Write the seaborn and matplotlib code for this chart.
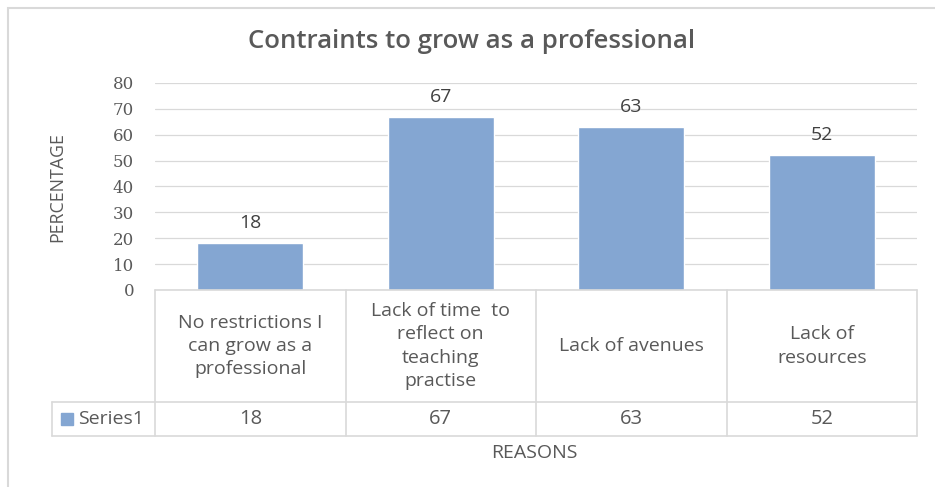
import matplotlib
matplotlib.use("Agg")
import matplotlib.pyplot as plt
import matplotlib.transforms as mtransforms
from matplotlib.patches import Rectangle
import seaborn as sns
import pandas as pd

# ---- data ----
categories = ["No restrictions I\ncan grow as a\nprofessional",
              "Lack of time  to\nreflect on\nteaching\npractise",
              "Lack of avenues",
              "Lack of\nresources"]
values = [18, 67, 63, 52]
series_name = "Series1"
yticks = [0, 10, 20, 30, 40, 50, 60, 70, 80]
title = "Contraints to grow as a professional"
xlabel = "REASONS"
ylabel = "PERCENTAGE"

sns.set_theme(style="white")
plt.rcParams['font.family'] = ['Open Sans', 'DejaVu Sans']

TXT = "#595959"
BAR = "#84A6D2"
GRID = "#D9D9D9"

W, H = 935, 487
fig = plt.figure(figsize=(W / 100, H / 100), dpi=100)

# outer chart border
fig.add_artist(Rectangle((8 / W, -0.1), 1.2, (487 - 8) / H + 0.1, transform=fig.transFigure,
                         fill=False, edgecolor="#D9D9D9", lw=1.5))

L, R, T, B = 155, 917, 83, 290
ax = fig.add_axes([L / W, (H - B) / H, (R - L) / W, (B - T) / H])

df = pd.DataFrame({"cat": categories, "val": values})
sns.barplot(data=df, x="cat", y="val", color=BAR, saturation=1, width=0.556, ax=ax)
ax.set_ylim(0, 80)
ax.set_xlim(-0.5, 3.5)
ax.set_yticks(yticks)
ax.set_yticklabels([str(v) for v in yticks], color=TXT, fontsize=12, family=['DejaVu Serif'])
ax.tick_params(axis='y', length=0, pad=15)
ax.set_xticks([])
ax.set_xlabel("")
ax.set_ylabel("")
for s in ax.spines.values():
    s.set_visible(False)
ax.yaxis.grid(True, color=GRID, lw=0.9)
ax.set_axisbelow(True)

for c in ax.containers:
    ax.bar_label(c, labels=[str(v) for v in values], padding=8, color="#404040", fontsize=14)

# title and axis titles
fig.text(472 / W, 1 - 42 / H, title, ha="center", va="center", fontsize=18.5,
         fontweight="semibold", color=TXT)
fig.text(57 / W, 1 - 187 / H, ylabel, ha="center", va="center", rotation=90, fontsize=12.8, color=TXT)
fig.text(534 / W, 1 - 453 / H, xlabel, ha="center", va="center", fontsize=14, color=TXT)

# data table below axis
trans = mtransforms.blended_transform_factory(ax.transData, ax.transAxes)
ph = B - T
y0 = 0.0
y1 = -(402 - B) / ph
y2 = -(436 - B) / ph
cw = (R - L) / 4
xleft = (52 - L) / cw - 0.5
edges = [-0.5, 0.5, 1.5, 2.5, 3.5]
lkw = dict(color=GRID, lw=1.2, transform=trans, clip_on=False)
ax.plot([-0.5, 3.5], [y0, y0], **lkw)
ax.plot([xleft, 3.5], [y1, y1], **lkw)
ax.plot([xleft, 3.5], [y2, y2], **lkw)
for e in edges:
    ax.plot([e, e], [y0, y2], **lkw)
ax.plot([xleft, xleft], [y1, y2], **lkw)

for i, (cat, v) in enumerate(zip(categories, values)):
    ax.text(i, (y0 + y1) / 2, cat, transform=trans, ha="center", va="center",
            fontsize=14, color=TXT, linespacing=1.36, clip_on=False)
    ax.text(i, (y1 + y2) / 2, str(v), transform=trans, ha="center", va="center",
            fontsize=14.5, color=TXT, clip_on=False)

# legend key + series name
ax.add_patch(Rectangle(((61 - L) / cw - 0.5, (y1 + y2) / 2 - 6 / ph), 12 / cw, 12 / ph,
                       transform=trans, color=BAR, clip_on=False))
ax.text((78 - L) / cw - 0.5, (y1 + y2) / 2, series_name, transform=trans,
        ha="left", va="center", fontsize=14, color=TXT, clip_on=False)

fig.savefig("out.png", dpi=100)
